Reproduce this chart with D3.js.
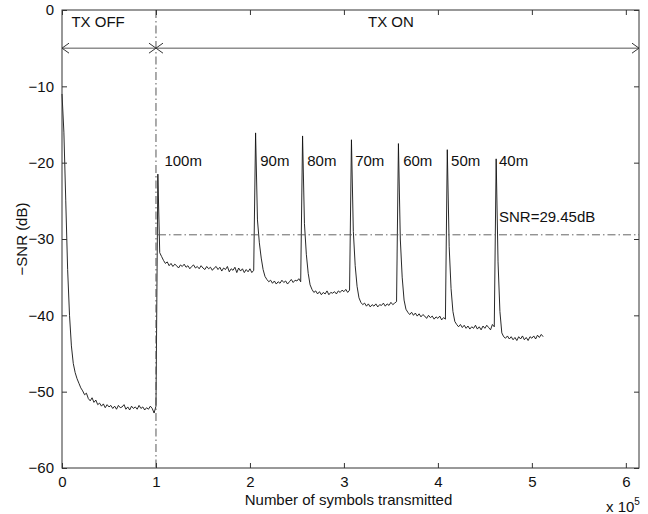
<!DOCTYPE html>
<html><head><meta charset="utf-8">
<script src="https://cdn.jsdelivr.net/npm/d3@7"></script>
<style>body{margin:0;background:#fff}svg{display:block}text{font-family:"Liberation Sans",Arial,sans-serif;fill:#111}</style>
</head><body><svg id="c" width="648" height="514"></svg>
<script>
// x ticks (units of 1e5 symbols), y ticks (dB)
const xTicks = [0,1,2,3,4,5,6];
const yTicks = [0,-10,-20,-30,-40,-50,-60];
const sampleStep = 0.02; // 2000 symbols per sample, in units of 1e5
// -SNR (dB) samples, starting at 0 symbols
const snr = [
-11,-16,-25,-34,-40,-44,-46.3,-47.5,-48.3,-48.9,
-49.5,-49.9,-50.4,-50.2,-50.9,-51.2,-50.8,-51.4,-51.1,-51.7,
-51.5,-51.9,-51.6,-52.1,-51.7,-52.0,-51.8,-52.2,-51.9,-52.3,
-51.8,-52.1,-52.0,-51.7,-52.3,-52.0,-52.4,-51.9,-52.2,-52.0,
-52.3,-51.8,-52.2,-52.0,-52.4,-52.1,-52.3,-51.9,-52.2,-52.8,
-51.9,-21.5,-31.8,-32.3,-32.8,-33.2,-33.0,-33.5,-33.2,-33.6,
-33.3,-33.5,-33.8,-33.4,-33.6,-33.3,-33.7,-33.5,-33.9,-33.6,
-33.4,-33.8,-33.6,-33.9,-33.5,-33.8,-34.0,-33.6,-33.9,-33.7,
-34.1,-33.8,-33.6,-34.0,-33.7,-34.2,-33.8,-34.0,-33.6,-34.3,
-33.9,-34.1,-33.7,-34.4,-33.8,-34.2,-33.9,-34.4,-34.0,-34.3,
-33.9,-34.4,-34.1,-16.1,-27.5,-30.5,-32.5,-34.0,-34.9,-35.3,
-35.6,-35.4,-35.8,-35.5,-35.9,-35.6,-35.8,-35.4,-35.7,-35.5,
-35.9,-35.6,-35.3,-35.7,-35.4,-35.5,-35.2,-35.6,-16.5,-28,
-32,-34.5,-36.0,-36.6,-37.0,-36.8,-37.2,-36.9,-37.3,-37.0,
-37.2,-36.8,-37.3,-37.0,-37.1,-36.9,-37.2,-36.8,-37.0,-36.7,
-36.9,-36.6,-37.0,-36.7,-17,-29,-33.5,-36.2,-37.7,-38.3,
-38.6,-38.4,-38.8,-38.5,-38.9,-38.6,-38.8,-38.5,-38.9,-38.6,
-38.7,-38.4,-38.8,-38.5,-38.7,-38.3,-38.6,-38.4,-38.2,-17.5,
-30,-35,-38,-39.2,-39.6,-39.9,-39.6,-40.0,-39.7,-40.1,
-39.8,-40.2,-39.9,-40.1,-40.4,-40.0,-40.3,-40.1,-40.5,-40.2,
-40.4,-40.1,-40.6,-40.3,-40.5,-18.3,-31,-36.5,-39.5,-40.8,
-41.2,-41.5,-41.2,-41.6,-41.3,-41.7,-41.4,-41.8,-41.5,-41.7,
-41.3,-41.8,-41.5,-41.9,-41.4,-41.7,-41.3,-41.6,-41.9,-41.2,
-41.5,-19.5,-33,-39.5,-42.3,-42.8,-43.0,-42.7,-43.1,-42.8,
-43.2,-42.9,-43.3,-42.8,-43.1,-42.7,-43.2,-42.9,-43.3,-42.8,
-43.0,-42.7,-43.1,-42.6,-42.9,-42.5,-42.8
];
// distance labels at each TX-ON spike
const distLabels = ["100m","90m","80m","70m","60m","50m","40m"];
const distLabelX = [1.09,2.11,2.61,3.12,3.63,4.14,4.65];
const thresholdDb = -29.45;
const thresholdText = "SNR=29.45dB";
const txOffEnd = 1.0;
const arrowDb = -5;

const svg = d3.select("#c");
const L=62,R=639,T=10,B=468;
const FS=15;
const x = d3.scaleLinear().domain([0,6.14]).range([L,R]);
const y = d3.scaleLinear().domain([-60,0]).range([B,T]);
const axisCol="#333";

// data line
const pts = snr.map((v,i)=>[i*sampleStep, v]);
svg.append("path").datum(pts)
  .attr("d", d3.line().x(d=>x(d[0])).y(d=>y(d[1])))
  .attr("fill","none").attr("stroke","#111").attr("stroke-width",0.9);

// vertical dash-dot at TX switch
svg.append("line").attr("x1",x(txOffEnd)).attr("x2",x(txOffEnd)).attr("y1",T).attr("y2",B)
  .attr("stroke","#444").attr("stroke-width",0.9).attr("stroke-dasharray","8,3,1.5,3");
// threshold line
svg.append("line").attr("x1",x(txOffEnd)+2).attr("x2",R).attr("y1",y(thresholdDb)).attr("y2",y(thresholdDb))
  .attr("stroke","#555").attr("stroke-width",0.9).attr("stroke-dasharray","8,3,1.5,3");

// arrows
function arrow(x0,x1){
  const yy=y(arrowDb);
  svg.append("line").attr("x1",x(x0)).attr("x2",x(x1)).attr("y1",yy).attr("y2",yy)
    .attr("stroke","#555").attr("stroke-width",1);
  const a=x(x0), b=x(x1);
  svg.append("path").attr("d",`M${a+7},${yy-5}L${a},${yy}L${a+7},${yy+5}`).attr("fill","none").attr("stroke","#333").attr("stroke-width",1);
  svg.append("path").attr("d",`M${b-7},${yy-5}L${b},${yy}L${b-7},${yy+5}`).attr("fill","none").attr("stroke","#333").attr("stroke-width",1);
}
arrow(0,txOffEnd);
arrow(txOffEnd,6.14);
svg.append("text").attr("x",x(0.1)).attr("y",y(-2.2)).attr("font-size",FS).text("TX OFF");
svg.append("text").attr("x",x(3.5)).attr("y",y(-2.2)).attr("font-size",FS).attr("text-anchor","middle").text("TX ON");

// distance labels
svg.selectAll("text.dl").data(distLabels).enter().append("text").attr("class","dl")
  .attr("x",(d,i)=>x(distLabelX[i])).attr("y",y(-20.5)).attr("font-size",FS).text(d=>d);
svg.append("text").attr("x",x(4.65)).attr("y",y(-27.8)).attr("font-size",FS).text(thresholdText);

// box and ticks
svg.append("rect").attr("x",L).attr("y",T).attr("width",R-L).attr("height",B-T)
  .attr("fill","none").attr("stroke",axisCol).attr("stroke-width",1);
const fmt = v => v<0 ? "\u2212"+Math.abs(v) : ""+v;
const xa = svg.append("g").attr("transform",`translate(0,${B})`)
  .call(d3.axisBottom(x).tickValues(xTicks).tickSize(-5).tickPadding(8).tickFormat(d=>d));
const xt = svg.append("g").attr("transform",`translate(0,${T})`)
  .call(d3.axisTop(x).tickValues(xTicks).tickSize(-5).tickFormat(""));
const ya = svg.append("g").attr("transform",`translate(${L},0)`)
  .call(d3.axisLeft(y).tickValues(yTicks).tickSize(-5).tickPadding(8).tickFormat(fmt));
const yr = svg.append("g").attr("transform",`translate(${R},0)`)
  .call(d3.axisRight(y).tickValues(yTicks).tickSize(-5).tickFormat(""));
[xa,xt,ya,yr].forEach(g=>{g.select(".domain").remove();
  g.selectAll("line").attr("stroke",axisCol);
  g.selectAll("text").attr("font-size",FS).attr("fill","#111").attr("font-family","Liberation Sans, Arial, sans-serif");});

svg.append("text").attr("x",(L+R)/2-2).attr("y",505).attr("font-size",FS).attr("text-anchor","middle").text("Number of symbols transmitted");
svg.append("text").attr("transform",`translate(27,${(T+B)/2}) rotate(-90)`).attr("font-size",FS).attr("text-anchor","middle").text("\u2212SNR (dB)");
const ex = svg.append("text").attr("x",606).attr("y",512).attr("font-size",FS);
ex.append("tspan").text("x 10");
ex.append("tspan").attr("dy",-7).attr("font-size",10).text("5");
</script></body></html>
